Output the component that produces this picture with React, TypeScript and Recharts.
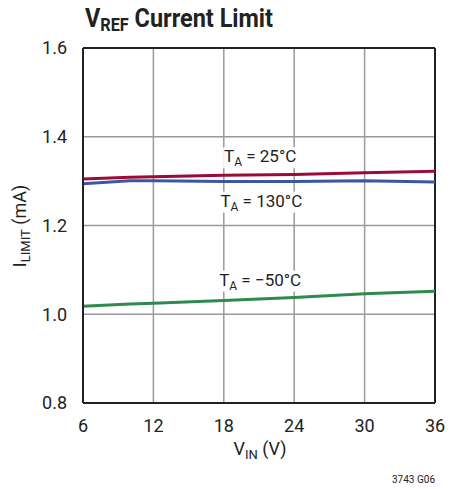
import { CartesianGrid, Line, LineChart, ReferenceDot, ReferenceLine, XAxis, YAxis } from "recharts";

const FONT = "Roboto, 'Liberation Sans', Arial, sans-serif";

const vin = [6, 10, 12, 18, 24, 30, 36];
const limit25 = [1.305, 1.309, 1.31, 1.313, 1.315, 1.319, 1.322];
const limit130 = [1.294, 1.301, 1.301, 1.299, 1.299, 1.301, 1.298];
const limitMinus50 = [1.018, 1.023, 1.025, 1.031, 1.038, 1.046, 1.052];

const xTicks = [6, 12, 18, 24, 30, 36];
const yTicks = [0.8, 1.0, 1.2, 1.4, 1.6];

const curveLabels = [
  { x: 21.1, y: 1.3425, temp: "25°C" },
  { x: 21.2, y: 1.2426, temp: "130°C" },
  { x: 21.1, y: 1.0645, temp: "\u221250°C" },
];

const data = vin.map((v, i) => ({
  vin: v,
  t25: limit25[i],
  t130: limit130[i],
  tm50: limitMinus50[i],
}));

function CurveLabel(props: any) {
  const { cx, cy, temp } = props;
  const w = temp.length > 4 ? 82 : 74;
  return (
    <g>
      <rect x={cx - w / 2} y={cy - 15} width={w} height={21} fill="#fff" />
      <text x={cx} y={cy} textAnchor="middle" fontFamily={FONT} fontSize={17} fill="#222">
        T
        <tspan fontSize={12} dy={4}>A</tspan>
        <tspan dy={-4}>{` = ${temp}`}</tspan>
      </text>
    </g>
  );
}

export default function App() {
  return (
    <div style={{ position: "absolute", left: 0, top: 0, width: 460, height: 489, background: "#fff" }}>
      <LineChart
        width={460}
        height={489}
        data={data}
        margin={{ top: 48, right: 25, left: 43, bottom: 56 }}
      >
        <CartesianGrid stroke="#9a9a9a" strokeWidth={1.5} />
        <XAxis
          dataKey="vin"
          type="number"
          domain={[6, 36]}
          ticks={xTicks}
          tickLine={false}
          tickMargin={10}
          height={30}
          axisLine={{ stroke: "#222", strokeWidth: 2 }}
          tick={{ fontSize: 18, fill: "#222", fontFamily: FONT }}
        />
        <YAxis
          type="number"
          domain={[0.8, 1.6]}
          ticks={yTicks}
          tickLine={false}
          tickMargin={10}
          width={40}
          axisLine={{ stroke: "#222", strokeWidth: 2 }}
          tickFormatter={(v: number) => v.toFixed(1)}
          tick={{ fontSize: 18, fill: "#222", fontFamily: FONT }}
        />
        <ReferenceLine y={1.6} stroke="#222" strokeWidth={2} />
        <ReferenceLine x={36} stroke="#222" strokeWidth={2} />
        <Line dataKey="t25" stroke="#9b0b35" strokeWidth={3} dot={false} isAnimationActive={false} />
        <Line dataKey="t130" stroke="#3c56a6" strokeWidth={3} dot={false} isAnimationActive={false} />
        <Line dataKey="tm50" stroke="#2e8a4e" strokeWidth={3} dot={false} isAnimationActive={false} />
        {curveLabels.map((c) => (
          <ReferenceDot
            key={c.temp}
            x={c.x}
            y={c.y}
            r={0}
            shape={(p: any) => <CurveLabel {...p} temp={c.temp} />}
          />
        ))}
      </LineChart>
      <svg
        width={460}
        height={489}
        style={{ position: "absolute", left: 0, top: 0, pointerEvents: "none" }}
      >
        <text
          x={85}
          y={27}
          fontFamily={FONT}
          fontWeight="bold"
          fontSize={26}
          fill="#222"
          textLength={188}
          lengthAdjust="spacingAndGlyphs"
        >
          V
          <tspan fontSize={18} dy={4}>REF</tspan>
          <tspan dy={-4}> Current Limit</tspan>
        </text>
        <text x={260} y={455} textAnchor="middle" fontFamily={FONT} fontSize={18} fill="#222">
          V
          <tspan fontSize={13} dy={4}>IN</tspan>
          <tspan dy={-4}> (V)</tspan>
        </text>
        <text
          transform="translate(26,226) rotate(-90)"
          textAnchor="middle"
          fontFamily={FONT}
          fontSize={18}
          fill="#222"
        >
          I
          <tspan fontSize={13} dy={4}>LIMIT</tspan>
          <tspan dy={-4}> (mA)</tspan>
        </text>
        <text x={435} y={483} textAnchor="end" fontFamily={FONT} fontSize={10} fill="#222">
          3743 G06
        </text>
      </svg>
    </div>
  );
}
